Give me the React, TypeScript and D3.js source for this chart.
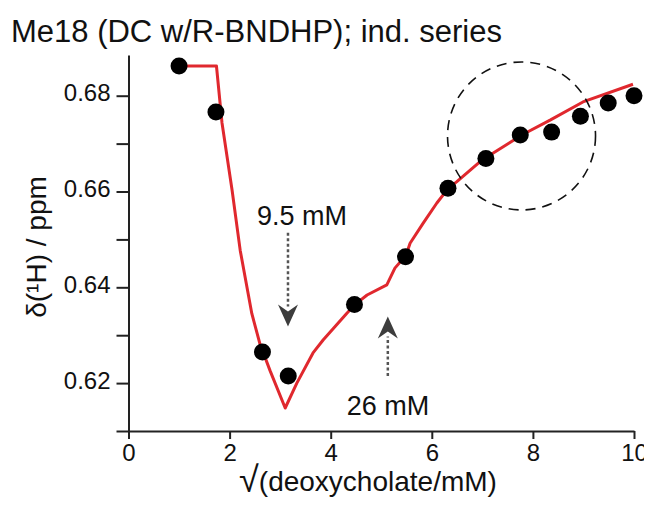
import React, { useEffect, useRef } from 'react';
import * as d3 from 'd3';

// sqrt(deoxycholate / mM) and observed shift (ppm)
const pointX = [1.0, 1.73, 2.65, 3.16, 4.47, 5.48, 6.32, 7.07, 7.75, 8.37, 8.94, 9.49, 10.0];
const pointY = [0.6862, 0.6766, 0.6265, 0.6215, 0.6364, 0.6464, 0.6607, 0.6669, 0.6718, 0.6724, 0.6757, 0.6785, 0.68];

// fitted curve (red)
const fitX = [1.03, 1.74, 1.85, 2.05, 2.21, 2.44, 2.6, 2.8, 3.1, 3.33, 3.65, 3.85, 4.32, 4.49, 4.72, 5.11, 5.27, 5.49, 5.57, 5.83, 6.1, 6.33, 6.49, 6.95, 7.09, 7.78, 8.34, 8.99, 9.98];
const fitY = [0.6862, 0.6862, 0.6743, 0.6602, 0.6477, 0.6345, 0.6282, 0.6226, 0.6148, 0.62, 0.6263, 0.629, 0.6346, 0.6365, 0.6384, 0.6405, 0.644, 0.6467, 0.6492, 0.6534, 0.6576, 0.6607, 0.662, 0.6662, 0.6672, 0.6718, 0.6749, 0.6787, 0.6824];

const xTicks = [0, 2, 4, 6, 8, 10];
const yTicks = [0.61, 0.62, 0.63, 0.64, 0.65, 0.66, 0.67, 0.68];
const yLabelled = [0.62, 0.64, 0.66, 0.68];

const width = 652;
const height = 506;
const font = 'Liberation Sans, Arial, Helvetica, sans-serif';

const Chart = () => {
  const svgRef = useRef(null);

  useEffect(() => {
    const svg = d3.select(svgRef.current);
    svg.selectAll('*').remove();

    const x = d3.scaleLinear().domain([0, 10]).range([128.5, 634]);
    const y = d3.scaleLinear().domain([0.61, 0.6885]).range([431, 55]);

    // title
    svg.append('text')
      .attr('x', 11)
      .attr('y', 42)
      .attr('font-family', font)
      .attr('font-size', 31)
      .attr('fill', '#111')
      .text('Me18 (DC w/R-BNDHP); ind. series');

    // axes
    const xAxis = d3.axisBottom(x)
      .tickValues(xTicks)
      .tickSize(8)
      .tickSizeOuter(0)
      .tickPadding(5)
      .tickFormat(d3.format('d'));

    const yAxis = d3.axisLeft(y)
      .tickValues(yTicks)
      .tickSize(12)
      .tickSizeOuter(0)
      .tickPadding(6)
      .tickFormat(d => (yLabelled.some(v => Math.abs(v - d) < 1e-6) ? d3.format('.2f')(d) : ''));

    const gx = svg.append('g')
      .attr('transform', `translate(0, ${y(0.61)})`)
      .call(xAxis);

    const gy = svg.append('g')
      .attr('transform', `translate(${x(0)}, 0)`)
      .call(yAxis);

    [gx, gy].forEach(g => {
      g.select('.domain').attr('stroke', '#222').attr('stroke-width', 2);
      g.selectAll('.tick line').attr('stroke', '#222').attr('stroke-width', 2);
      g.selectAll('.tick text')
        .attr('font-family', font)
        .attr('font-size', 24)
        .attr('fill', '#111');
    });
    gy.selectAll('.tick text').attr('dy', '0.22em');

    // axis labels
    const xl = svg.append('text')
      .attr('x', 368)
      .attr('y', 491)
      .attr('text-anchor', 'middle')
      .attr('font-family', font)
      .attr('font-size', 28)
      .attr('fill', '#111');
    xl.append('tspan').attr('font-size', 36).attr('dy', 1).text('√');
    xl.append('tspan').attr('dy', -1).text('(deoxycholate/mM)');

    svg.append('text')
      .attr('transform', 'rotate(-90)')
      .attr('x', -247)
      .attr('y', 46)
      .attr('text-anchor', 'middle')
      .attr('font-family', font)
      .attr('font-size', 28)
      .attr('fill', '#111')
      .text('δ(¹H) / ppm');

    // fitted curve
    const line = d3.line()
      .x(d => x(d[0]))
      .y(d => y(d[1]));

    svg.append('path')
      .datum(fitX.map((v, i) => [v, fitY[i]]))
      .attr('d', line)
      .attr('fill', 'none')
      .attr('stroke', '#e0282e')
      .attr('stroke-width', 3)
      .attr('stroke-linejoin', 'round');

    // data points
    svg.selectAll('circle.pt')
      .data(pointX.map((v, i) => [v, pointY[i]]))
      .enter()
      .append('circle')
      .attr('class', 'pt')
      .attr('cx', d => x(d[0]))
      .attr('cy', d => y(d[1]))
      .attr('r', 8.5)
      .attr('fill', '#000');

    // dashed circle highlighting the plateau
    svg.append('circle')
      .attr('cx', x(7.775))
      .attr('cy', y(0.6716))
      .attr('r', 74)
      .attr('fill', 'none')
      .attr('stroke', '#111')
      .attr('stroke-width', 1.6)
      .attr('stroke-dasharray', '10,7');

    // arrows with labels
    const arrowColor = '#3d3d3d';
    const head = 'M0,0 L-10,-22 L0,-15 L10,-22 Z';

    const arrows = [
      { label: '9.5 mM', ax: 3.155, from: 0.6514, to: 0.6318, labelX: 302, labelY: 225 },
      { label: '26 mM', ax: 5.13, from: 0.6215, to: 0.6339, labelX: 388, labelY: 415 },
    ];

    arrows.forEach(a => {
      const px = x(a.ax);
      const down = a.to < a.from;
      const tip = y(a.to);
      const base = down ? tip - 20 : tip + 20;
      svg.append('line')
        .attr('x1', px)
        .attr('x2', px)
        .attr('y1', y(a.from))
        .attr('y2', base)
        .attr('stroke', '#555')
        .attr('stroke-width', 2.5)
        .attr('stroke-dasharray', '3,2.5');
      svg.append('path')
        .attr('d', head)
        .attr('transform', `translate(${px}, ${tip}) rotate(${down ? 0 : 180})`)
        .attr('fill', arrowColor);
      svg.append('text')
        .attr('x', a.labelX)
        .attr('y', a.labelY)
        .attr('text-anchor', 'middle')
        .attr('font-family', font)
        .attr('font-size', 27)
        .attr('fill', '#111')
        .text(a.label);
    });
  }, []);

  return <svg ref={svgRef} width={width} height={height} style={{ display: 'block' }} />;
};

export default function App() {
  return (
    <div style={{ margin: -8 }}>
      <Chart />
    </div>
  );
}
